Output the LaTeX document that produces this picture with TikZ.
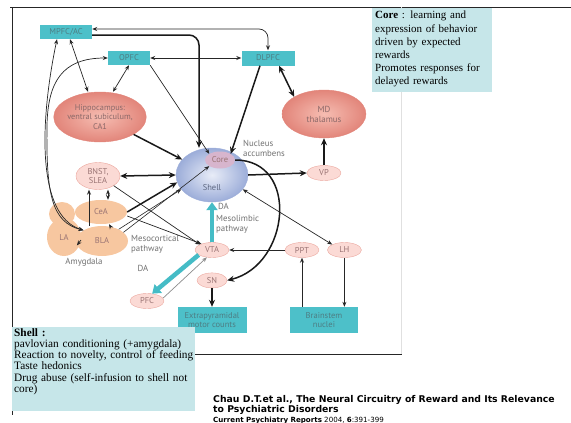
\documentclass[tikz,border=0pt]{standalone}
\usepackage{fontspec}
\usetikzlibrary{positioning,shapes.geometric,arrows.meta}
\newfontfamily\figfont{PT Sans}
\newfontfamily\notefont{Liberation Serif}
\newfontfamily\citefont{DejaVu Sans}
\definecolor{boxteal}{HTML}{4DC0C9}
\definecolor{boxtext}{HTML}{4E7D83}
\definecolor{notecyan}{HTML}{C6E6E9}
\definecolor{ovalfill}{HTML}{FBDAD5}
\definecolor{ovaledge}{HTML}{EBA89F}
\definecolor{ovaltext}{HTML}{9A7474}
\definecolor{salmonin}{HTML}{F6BDB2}
\definecolor{salmonout}{HTML}{E2857A}
\definecolor{nacin}{HTML}{E8ECF7}
\definecolor{nacout}{HTML}{9CADD9}
\definecolor{corefill}{HTML}{D7B5CD}
\definecolor{amyg}{HTML}{F7C7A0}
\definecolor{lblgray}{HTML}{707070}
\definecolor{dateal}{HTML}{45BCC6}

\begin{document}
\begin{tikzpicture}[x=1pt,y=-1pt,
  box/.style={fill=boxteal,text=boxtext,font=\figfont\fontsize{8.5}{9.5}\selectfont,inner sep=0pt,align=center},
  oval/.style={ellipse,fill=ovalfill,draw=ovaledge,text=ovaltext,font=\figfont\fontsize{8.5}{9}\selectfont,inner sep=0pt,minimum width=34pt,minimum height=15pt},
  bigoval/.style={ellipse,inner color=salmonin,outer color=salmonout,draw=salmonout,text=ovaltext!90!black,font=\figfont\fontsize{8.3}{9.3}\selectfont,align=center,inner sep=0pt},
  amygoval/.style={ellipse,fill=amyg,text=ovaltext,font=\figfont\fontsize{8.5}{9}\selectfont,inner sep=0pt},
  lbl/.style={text=lblgray,font=\figfont\fontsize{8.8}{10}\selectfont,align=left,inner sep=0pt},
  tn/.style={black!85,line width=.7pt,>={Stealth[length=5pt,width=4pt]}},
  tk/.style={black!90,line width=1.5pt,>={Stealth[length=7pt,width=6pt]}},
  dapath/.style={dateal,line width=4.5pt,-{Triangle[length=8pt,width=11pt]}}]
\useasboundingbox (0,0) rectangle (571,423);

\draw[black!85,line width=1pt] (10,7) -- (571,7); \draw[black!85,line width=1pt] (12,7) -- (12,415);
\draw[black!85,line width=.8pt] (12,354) -- (402,354); \draw[black!12] (401,7) -- (401,354);

\node[box,minimum width=52pt,minimum height=14pt] (mpfc) at (66,32) {MPFC/AC};
\node[box,minimum width=42pt,minimum height=14pt] (opfc) at (129,58) {OPFC};
\node[box,minimum width=53pt,minimum height=15pt] (dlpfc) at (268,58) {DLPFC};
\node[bigoval,minimum width=86pt,minimum height=50pt] (hip) at (100,117) {Hippocampus:\\ventral subiculum,\\CA1};
\node[bigoval,minimum width=84pt,minimum height=48pt,font=\figfont\fontsize{8.8}{10}\selectfont] (md) at (324,114) {MD\\thalamus};

\node[ellipse,inner color=nacin,outer color=nacout,draw=nacout,minimum width=72pt,minimum height=54pt] (nac) at (212,175) {};
\node[ellipse,fill=corefill,text=ovaltext,font=\figfont\fontsize{8.5}{9}\selectfont,inner sep=0pt,minimum width=30pt,minimum height=17pt] (core) at (220,160) {Core};
\node[text=nacout!60!black,font=\figfont\fontsize{8.5}{9}\selectfont] (shelltxt) at (212,188) {Shell};
\node[lbl,anchor=west] (naclbl) at (243,148) {Nucleus\\accumbens};
\node[oval] (vp) at (324,173) {VP};
\node[oval,minimum width=44pt,minimum height=27pt,align=center] (bnst) at (98,176) {BNST,\\SLEA};

\fill[amyg] (62,214) ellipse (13 and 12);
\node[amygoval,minimum width=34pt,minimum height=38pt] (la) at (64,237) {LA};
\node[amygoval,minimum width=52pt,minimum height=24pt] (cea) at (101,212) {CeA};
\node[amygoval,minimum width=52pt,minimum height=30pt] (bla) at (102,241) {BLA};
\node[lbl] (amylbl) at (84,262) {Amygdala};

\node[oval] (vta) at (212,250) {VTA};
\node[oval,below=15pt of vta,minimum width=30pt] (sn) {SN};
\node[oval] (pfc) at (147,301) {PFC};
\node[oval] (ppt) at (302,250) {PPT};
\node[oval,right=8pt of ppt] (lh) {LH};
\node[box,minimum width=69pt,minimum height=26pt] (extra) at (212,320) {Extrapyramidal\\motor counts};
\node[box,minimum width=68pt,minimum height=26pt] (brain) at (324,320) {Brainstem\\nuclei};

\node[lbl,anchor=west] (dalimb) at (218,206) {DA};
\node[lbl,anchor=west] (mesolimb) at (216,224) {Mesolimbic\\pathway};
\node[lbl,anchor=west] (mesocort) at (131,244) {Mesocortical\\pathway};
\node[lbl] (dacort) at (143,268) {DA};

\draw[tn,<->,rounded corners=9pt] ([yshift=3pt]mpfc.east) -| (dlpfc.north);
\draw[tk,->,rounded corners=10pt] ([yshift=-3pt]mpfc.east) -| ([xshift=-13pt]nac.north);
\draw[tn,<->] (opfc) -- (dlpfc);
\draw[tn,->] (opfc.south east) -- (core.north west);
\draw[tk,->] ([xshift=-8pt]dlpfc.south) -- (core.north east);
\draw[tk,<->] ([xshift=11pt]dlpfc.south) -- (md.north west);
\draw[tk,->] (vp) -- (md);
\draw[tk,->] (nac.east) -- (vp.west);
\draw[tk,->] (hip) -- (nac);
\draw[tn,<->] ([xshift=4pt]mpfc.south) -- ([xshift=-12pt]hip.north);
\draw[tn,<->] (opfc.south) -- ([xshift=13pt]hip.north);
\draw[tn,<->] ([xshift=-9pt]mpfc.south) .. controls (40,120) and (36,215) .. (bla.north west);
\draw[tn,<->] (opfc.west) .. controls (62,58) and (48,82) .. (47,125) .. controls (46,195) and (52,222) .. (bla.150);
\draw[tk,<->] (bnst.east) -- (nac.west);
\draw[tk,->] (cea.east) -- (nac.192);
\draw[tn,semithick,->] (bla.35) -- (nac.205);
\draw[tn,semithick,->] (bla.22) -- (core.south west);
\draw[tn,->] (bnst.south east) -- (vta.north west);
\draw[tn,->] ([yshift=-4pt]cea.east) -- (vta.150);
\draw[dapath] (vta.north) -- (nac.south);
\draw[dapath] (vta.200) -- (pfc.55);
\draw[tn,black!45,->] (pfc.10) -- (vta.235);
\draw[tk,->] (core.east) .. controls (300,160) and (290,265) .. (sn.east);
\draw[tn,<->] (nac.-25) -- (lh.north west);
\draw[tn,->] (ppt.west) -- (vta.east);
\draw[tk,->] (sn.south) -- (extra.north);
\draw[tn,->] (lh.south) -- (lh.south |- brain.north);
\draw[tn,->] (ppt.south |- brain.north) -- (ppt.south);
\draw[tn,->] ([xshift=-13pt]bla.north) -- ([xshift=-13pt]bla.north |- bnst.south);
\draw[tn,<->] ([xshift=10pt]bnst.south) -- ([xshift=10pt]bnst.south |- cea.north);
\draw[tn,->] ([xshift=8pt]bla.north) -- ([xshift=8pt]cea.south);
\draw[tn,->] (la.-10) -- (bla.190);

\fill[notecyan] (372,8) rectangle (492,92);
\node[anchor=north west,text width=114pt,inner sep=3pt,align=left,font=\notefont\fontsize{11}{13.2}\selectfont] (corenote) at (372,8) {\textbf{Core} : learning and\\expression of behavior\\driven by expected\\rewards\\Promotes responses for\\delayed rewards};
\fill[notecyan] (12,327) rectangle (195,411);
\node[anchor=north west,text width=181pt,inner xsep=2pt,inner ysep=1pt,align=left,font=\notefont\fontsize{11.3}{11.3}\selectfont] (shellnote) at (12,327) {\textbf{Shell :}\\pavlovian conditioning (+amygdala)\\Reaction to novelty, control of feeding\\Taste hedonics\\Drug abuse (self-infusion to shell not\\core)};
\node[anchor=north west,align=left,inner sep=0pt,font=\citefont\fontsize{9.3}{10}\selectfont] (cite) at (213,395) {\textbf{Chau D.T.et al., The Neural Circuitry of Reward and Its Relevance}\\\textbf{to Psychiatric Disorders}\\{\fontsize{7.1}{8}\selectfont\textbf{Current Psychiatry Reports} 2004, \textbf{6}:391-399}};
\end{tikzpicture}
\end{document}
